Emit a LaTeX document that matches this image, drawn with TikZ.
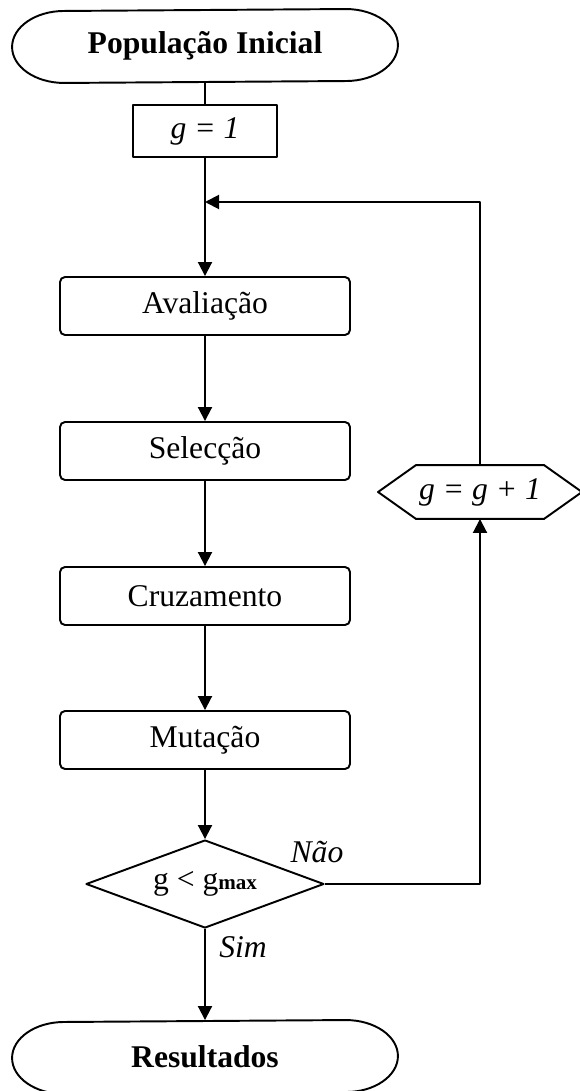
\documentclass[tikz,border=0pt]{standalone}
\usepackage{fontspec}
\setmainfont{Liberation Serif}
\usetikzlibrary{shapes.geometric,arrows.meta}

\begin{document}
\begin{tikzpicture}[x=0.02cm,y=-0.02cm,line width=1.1pt,line join=round,
    font=\fontsize{18}{22}\selectfont,
    terminal/.style={minimum width=7.68cm,minimum height=1.44cm,inner sep=0pt,
      font=\fontsize{18}{22}\selectfont\bfseries},
    caixa/.style={draw,rounded corners=0.1cm,minimum width=5.8cm,minimum height=1.16cm},
    seta/.style={-{Triangle[length=0.28cm,width=0.28cm]}}]
  \useasboundingbox (0,0) rectangle (579,1091);

  \node[terminal] (inicio) at (205,46) {População Inicial};
  \node[draw,minimum width=2.88cm,minimum height=1.04cm] (g1) at (205,131) {\textit{g = 1}};
  \node[caixa] (aval) at (205,306) {Avaliação};
  \node[caixa] (sel) at (205,451) {Selecção};
  \node[caixa] (cruz) at (205,596) {Cruzamento};
  \node[caixa] (mut) at (205,740) {Mutação};
  \node[draw,diamond,aspect=2.7,inner sep=0pt,minimum width=4.76cm,minimum height=1.76cm]
    (cond) at (205,884) {g < g{\fontsize{12}{14}\selectfont\bfseries max}};
  \node[terminal] (fim) at (205,1057) {Resultados};
  \node[minimum width=2.52cm,minimum height=1.04cm,inner sep=0pt] (inc) at (480,492) {\textit{g = g + 1}};
  \coordinate (retorno) at (205,202);

  % terminais com extremos elipticos
  \foreach \t in {inicio,fim}
    \draw ([xshift=-1.04cm]\t.north east)
      arc[start angle=90,end angle=-90,x radius=1.04cm,y radius=0.72cm]
      -- ([xshift=1.04cm]\t.south west)
      arc[start angle=270,end angle=90,x radius=1.04cm,y radius=0.72cm] -- cycle;
  \draw (inc.north west) -- (inc.north east) -- ([xshift=0.76cm]inc.east)
    -- (inc.south east) -- (inc.south west) -- ([xshift=-0.76cm]inc.west) -- cycle;

  \draw (inicio.south) -- (g1.north);
  \draw[seta] (g1.south) -- (aval.north);
  \foreach \a/\b in {aval/sel,sel/cruz,cruz/mut,mut/cond}
    \draw[seta] (\a) -- (\b);
  \draw[seta] (cond.east) -| (inc.south);
  \draw[seta] (inc.north) |- (retorno);
  \draw[seta] (cond.south) -- (fim.north);

  \node (nao) at (317,852) {\textit{Não}};
  \node (sim) at (243,947) {\textit{Sim}};
\end{tikzpicture}
\end{document}
